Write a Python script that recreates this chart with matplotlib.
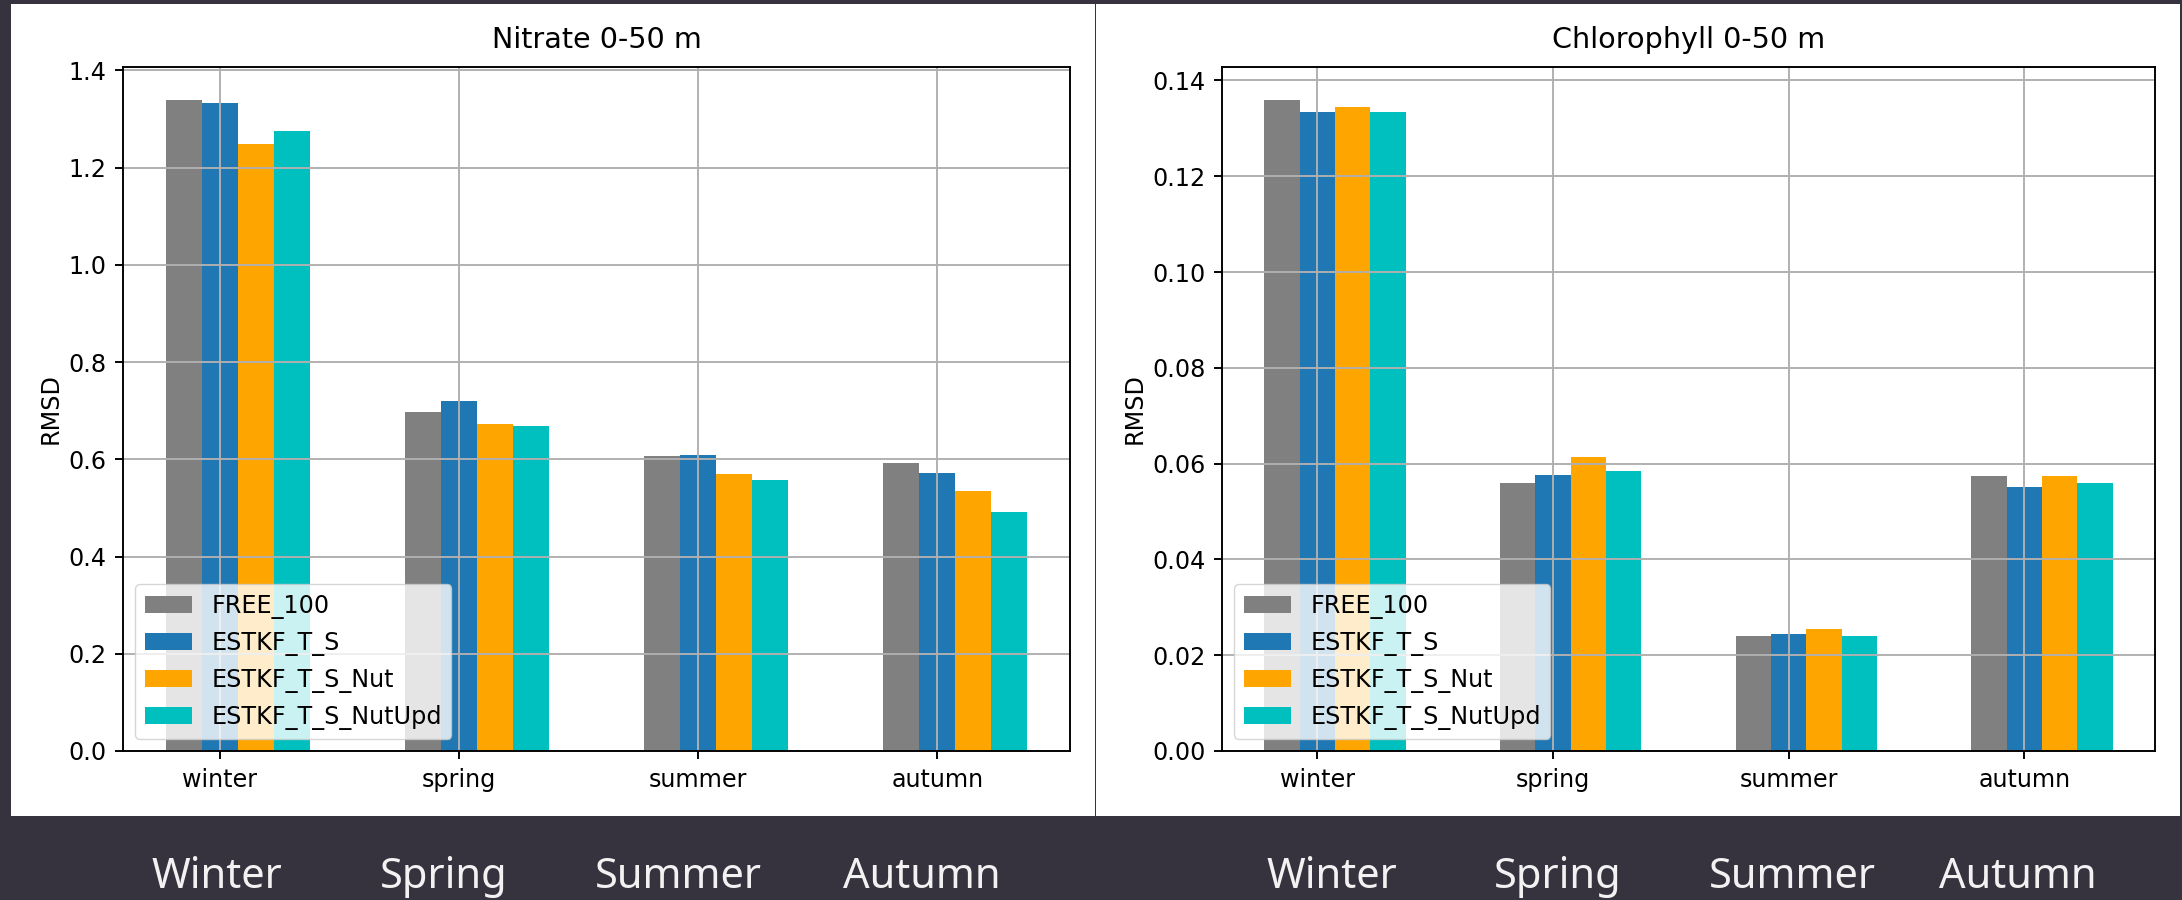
import numpy as np
import matplotlib
matplotlib.use('Agg')
import matplotlib.pyplot as plt
from matplotlib.patches import Rectangle

# scale everything like a 10pt default figure blown up
K = 1.72
plt.rc('font', size=10 * K)
plt.rc('axes', titlesize=12 * K, labelsize=10 * K, linewidth=0.8 * K, titlepad=8 * K)
plt.rc('xtick', labelsize=10 * K)
plt.rc('ytick', labelsize=10 * K)
plt.rc('xtick.major', size=3.5 * K, width=0.8 * K, pad=3.5 * K)
plt.rc('ytick.major', size=3.5 * K, width=0.8 * K, pad=3.5 * K)
plt.rc('grid', linewidth=0.8 * K)
plt.rc('legend', fontsize=10 * K)

# data
seasons = ['winter', 'spring', 'summer', 'autumn']
season_titles = ['Winter', 'Spring', 'Summer', 'Autumn']
runs = ['FREE_100', 'ESTKF_T_S', 'ESTKF_T_S_Nut', 'ESTKF_T_S_NutUpd']
colors = ['grey', '#1f77b4', 'orange', 'c']

nitrate_free = [1.340, 0.697, 0.607, 0.593]
nitrate_ts = [1.332, 0.719, 0.608, 0.572]
nitrate_nut = [1.248, 0.673, 0.569, 0.534]
nitrate_nutupd = [1.276, 0.669, 0.558, 0.492]

chl_free = [0.1360, 0.0559, 0.0241, 0.0574]
chl_ts = [0.1334, 0.0577, 0.0245, 0.0552]
chl_nut = [0.1345, 0.0613, 0.0255, 0.0574]
chl_nutupd = [0.1334, 0.0584, 0.0241, 0.0559]

BG = '#36333f'
fig = plt.figure(figsize=(21.82, 9.0), dpi=100, facecolor=BG)

# white panels behind the two plots
W, H = 2182.0, 900.0
fig.patches.append(Rectangle((11 / W, (H - 816) / H), (1095 - 11) / W, 812 / H,
                             transform=fig.transFigure, facecolor='white', edgecolor='none', zorder=-5))
fig.patches.append(Rectangle((1096 / W, (H - 816) / H), (2180 - 1096) / W, 812 / H,
                             transform=fig.transFigure, facecolor='white', edgecolor='none', zorder=-5))

ax1 = fig.add_axes([123 / W, (H - 751) / H, 947 / W, 684 / H])
ax2 = fig.add_axes([1222 / W, (H - 751) / H, 933 / W, 684 / H])

barWidth = 0.15
x = np.arange(len(seasons))


def draw(ax, series, title):
    for i, vals in enumerate(series):
        ax.bar(x + (i - 1) * barWidth, vals, width=barWidth, color=colors[i], label=runs[i])
    ax.set_xticks(x)
    ax.set_xticklabels(seasons)
    ax.set_ylabel('RMSD')
    ax.set_title(title)
    ax.grid(True)
    ax.legend(loc='lower left')


draw(ax1, [nitrate_free, nitrate_ts, nitrate_nut, nitrate_nutupd], 'Nitrate 0-50 m')
draw(ax2, [chl_free, chl_ts, chl_nut, chl_nutupd], 'Chlorophyll 0-50 m')

# big season captions under the panels
left_pos = [217, 444, 678, 922]
right_pos = [1332, 1558, 1792, 2018]
for px, name in zip(left_pos + right_pos, season_titles * 2):
    fig.text(px / W, (H - 888) / H, name, ha='center', va='baseline',
             color='#f2f2f2', fontsize=30, family=['Noto Sans', 'DejaVu Sans'])

fig.savefig('out.png', dpi=100, facecolor=BG)
